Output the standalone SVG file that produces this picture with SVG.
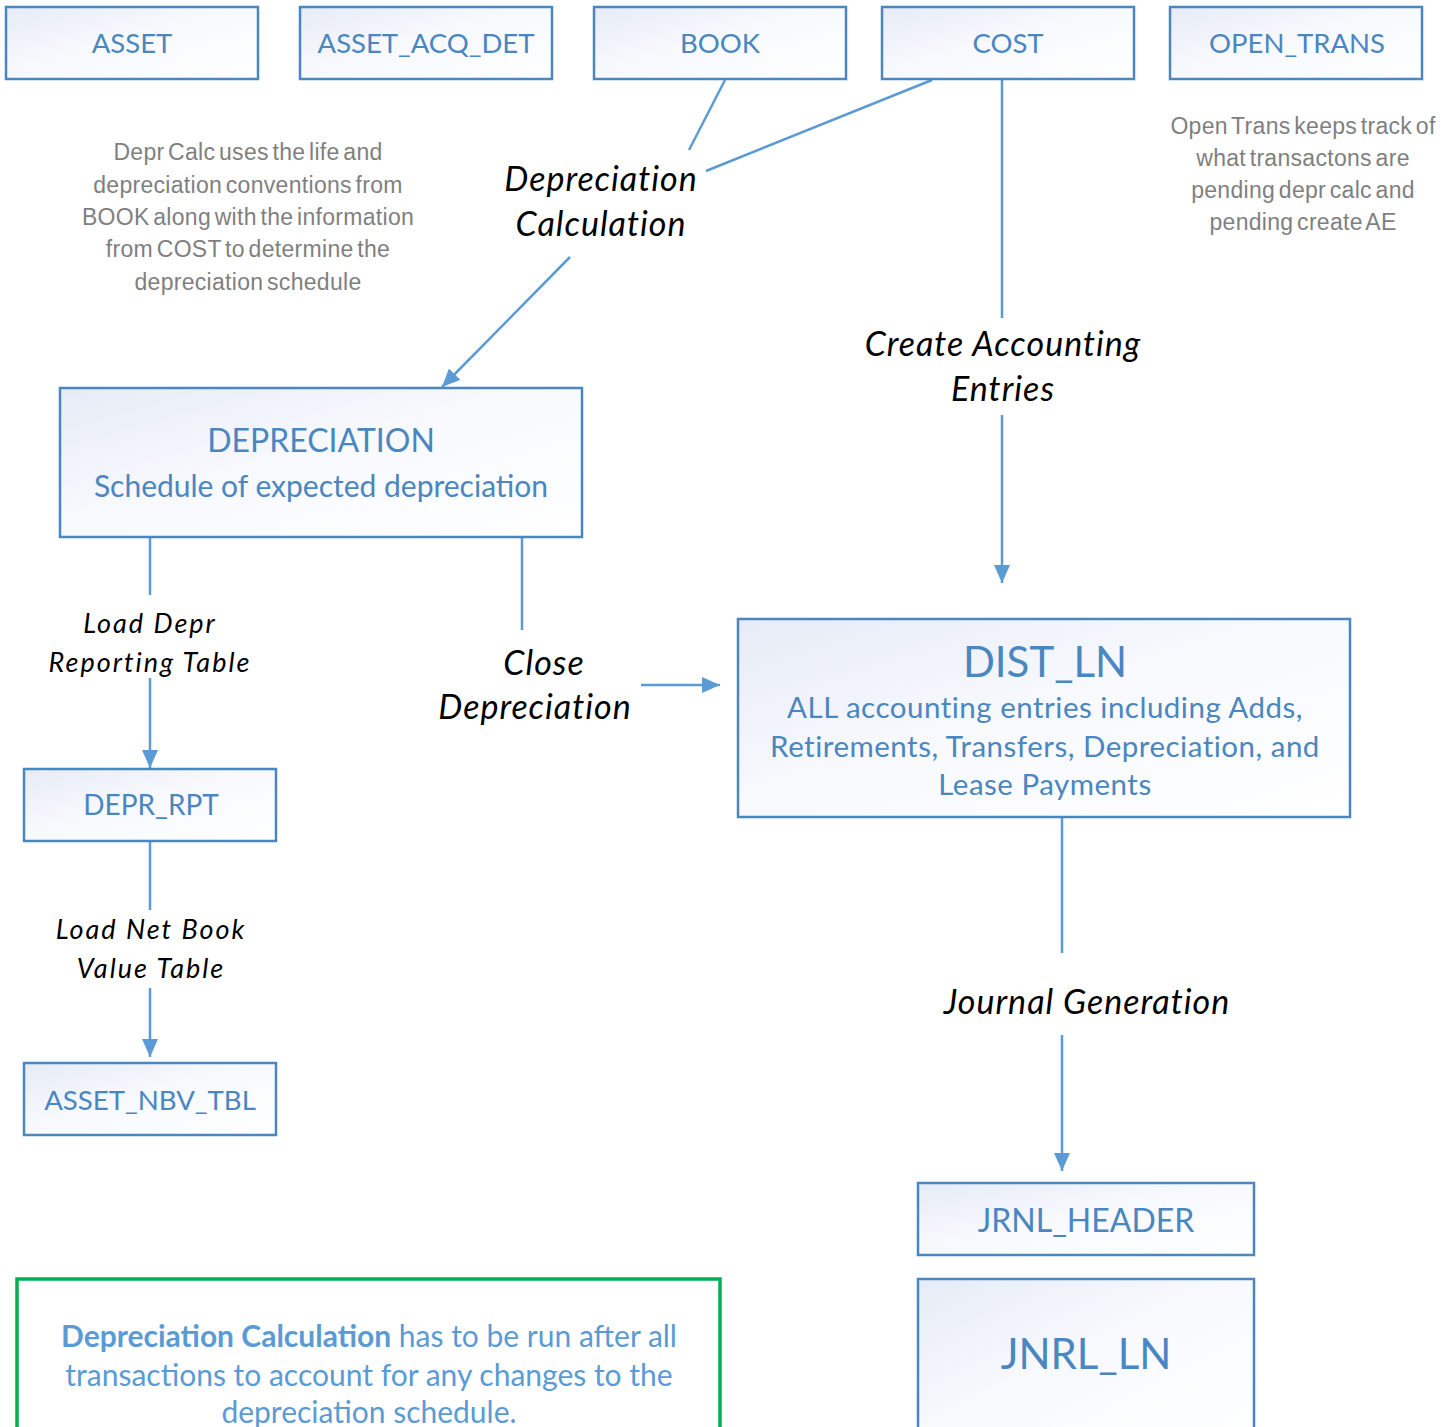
<svg xmlns="http://www.w3.org/2000/svg" width="1455" height="1427" viewBox="0 0 1455 1427">
<defs>
<linearGradient id="bg" x1="0" y1="0" x2="1" y2="1">
<stop offset="0" stop-color="#e6ebf6"/>
<stop offset="0.45" stop-color="#f7f9fd"/>
<stop offset="1" stop-color="#ffffff"/>
</linearGradient>
<marker id="ah" markerWidth="18" markerHeight="16" refX="18" refY="8" orient="auto" markerUnits="userSpaceOnUse">
<path d="M0,0 L18,8 L0,16 Z" fill="#5b9bd5"/>
</marker>
<style>
.box{fill:url(#bg);stroke:#4a86c0;stroke-width:2.5}
.bt{font-family:Lato,"Liberation Sans",sans-serif;fill:#4a86c0;text-anchor:middle}
.lbl{font-family:Lato,"Liberation Sans",sans-serif;font-style:italic;fill:#000;text-anchor:middle;font-size:34px;letter-spacing:1px}
.sl{font-size:27px;letter-spacing:2px}
.note{font-family:"Liberation Sans",sans-serif;fill:#7f7f7f;text-anchor:middle;font-size:23px;letter-spacing:0.3px;word-spacing:-3px}
.c{stroke:#5b9bd5;stroke-width:2.5;fill:none}
.gt{font-family:Lato,"Liberation Sans",sans-serif;fill:#5b9bd5;text-anchor:middle;font-size:30px}
</style>
</defs>
<rect width="1455" height="1427" fill="#fff"/>

<g id="connectors">
<line class="c" x1="725" y1="80" x2="689" y2="150"/>
<line class="c" x1="932" y1="80" x2="706" y2="171"/>
<line class="c" x1="570" y1="257" x2="442" y2="387" marker-end="url(#ah)"/>
<line class="c" x1="1002" y1="80" x2="1002" y2="318"/>
<line class="c" x1="1002" y1="415" x2="1002" y2="583" marker-end="url(#ah)"/>
<line class="c" x1="150" y1="538" x2="150" y2="595"/>
<line class="c" x1="150" y1="678" x2="150" y2="768" marker-end="url(#ah)"/>
<line class="c" x1="522" y1="538" x2="522" y2="630"/>
<line class="c" x1="641" y1="685" x2="720" y2="685" marker-end="url(#ah)"/>
<line class="c" x1="150" y1="842" x2="150" y2="910"/>
<line class="c" x1="150" y1="988" x2="150" y2="1057" marker-end="url(#ah)"/>
<line class="c" x1="1062" y1="818" x2="1062" y2="953"/>
<line class="c" x1="1062" y1="1035" x2="1062" y2="1171" marker-end="url(#ah)"/>
</g>

<g id="labels">
<text class="lbl" x="601" y="191">Depreciation</text>
<text class="lbl" x="601" y="236">Calculation</text>
<text class="lbl" x="1003" y="356">Create Accounting</text>
<text class="lbl" x="1003" y="401">Entries</text>
<text class="lbl sl" x="150" y="633">Load Depr</text>
<text class="lbl sl" x="150" y="672">Reporting Table</text>
<text class="lbl" x="544" y="675">Close</text>
<text class="lbl" x="535" y="719">Depreciation</text>
<text class="lbl sl" x="151" y="939">Load Net Book</text>
<text class="lbl sl" x="151" y="978">Value Table</text>
<text class="lbl" x="1087" y="1014">Journal Generation</text>
</g>

<g id="note-depr">
<text class="note" x="248" y="160">Depr Calc uses the life and</text>
<text class="note" x="248" y="193">depreciation conventions from</text>
<text class="note" x="248" y="225">BOOK along with the information</text>
<text class="note" x="248" y="257">from COST to determine the</text>
<text class="note" x="248" y="290">depreciation schedule</text>
</g>
<g id="note-open">
<text class="note" x="1303" y="134">Open Trans keeps track of</text>
<text class="note" x="1303" y="166">what transactons are</text>
<text class="note" x="1303" y="198">pending depr calc and</text>
<text class="note" x="1303" y="230">pending create AE</text>
</g>

<g id="asset"><rect class="box" x="6" y="7" width="252" height="72"/><text class="bt" font-size="27.5" x="132" y="53">ASSET</text></g>
<g id="asset_acq_det"><rect class="box" x="300" y="7" width="252" height="72"/><text class="bt" font-size="27.5" x="426" y="53">ASSET_ACQ_DET</text></g>
<g id="book"><rect class="box" x="594" y="7" width="252" height="72"/><text class="bt" font-size="27.5" x="720" y="53">BOOK</text></g>
<g id="cost"><rect class="box" x="882" y="7" width="252" height="72"/><text class="bt" font-size="27.5" x="1008" y="53">COST</text></g>
<g id="open_trans"><rect class="box" x="1170" y="7" width="252" height="72"/><text class="bt" font-size="27.5" x="1297" y="53">OPEN_TRANS</text></g>

<g id="depreciation"><rect class="box" x="60" y="388" width="522" height="149"/>
<text class="bt" font-size="32" x="321" y="452">DEPRECIATION</text>
<text class="bt" font-size="30" x="321" y="497">Schedule of expected depreciation</text></g>

<g id="depr_rpt"><rect class="box" x="24" y="769" width="252" height="72"/><text class="bt" font-size="28" x="151" y="815">DEPR_RPT</text></g>
<g id="asset_nbv_tbl"><rect class="box" x="24" y="1063" width="252" height="72"/><text class="bt" font-size="27.6" x="150" y="1110">ASSET_NBV_TBL</text></g>

<g id="dist_ln"><rect class="box" x="738" y="619" width="612" height="198"/>
<text class="bt" font-size="42" x="1045" y="677">DIST_LN</text>
<text class="bt" font-size="29.5" letter-spacing="0.5" x="1045" y="718">ALL accounting entries including Adds,</text>
<text class="bt" font-size="29.5" letter-spacing="0.5" x="1045" y="757">Retirements, Transfers, Depreciation, and</text>
<text class="bt" font-size="29.5" letter-spacing="0.5" x="1045" y="795">Lease Payments</text></g>

<g id="jrnl_header"><rect class="box" x="918" y="1183" width="336" height="72"/><text class="bt" font-size="32" x="1086" y="1232">JRNL_HEADER</text></g>
<g id="jnrl_ln"><rect class="box" x="918" y="1279" width="336" height="170"/><text class="bt" font-size="42" x="1086" y="1369">JNRL_LN</text></g>

<g id="note-box"><rect x="17" y="1279" width="703" height="170" fill="#fff" stroke="#00b050" stroke-width="3.5"/>
<text class="gt" x="369" y="1347"><tspan font-weight="bold">Depreciation Calculation</tspan> has to be run after all</text>
<text class="gt" x="369" y="1386">transactions to account for any changes to the</text>
<text class="gt" x="369" y="1423">depreciation schedule.</text></g>
</svg>
